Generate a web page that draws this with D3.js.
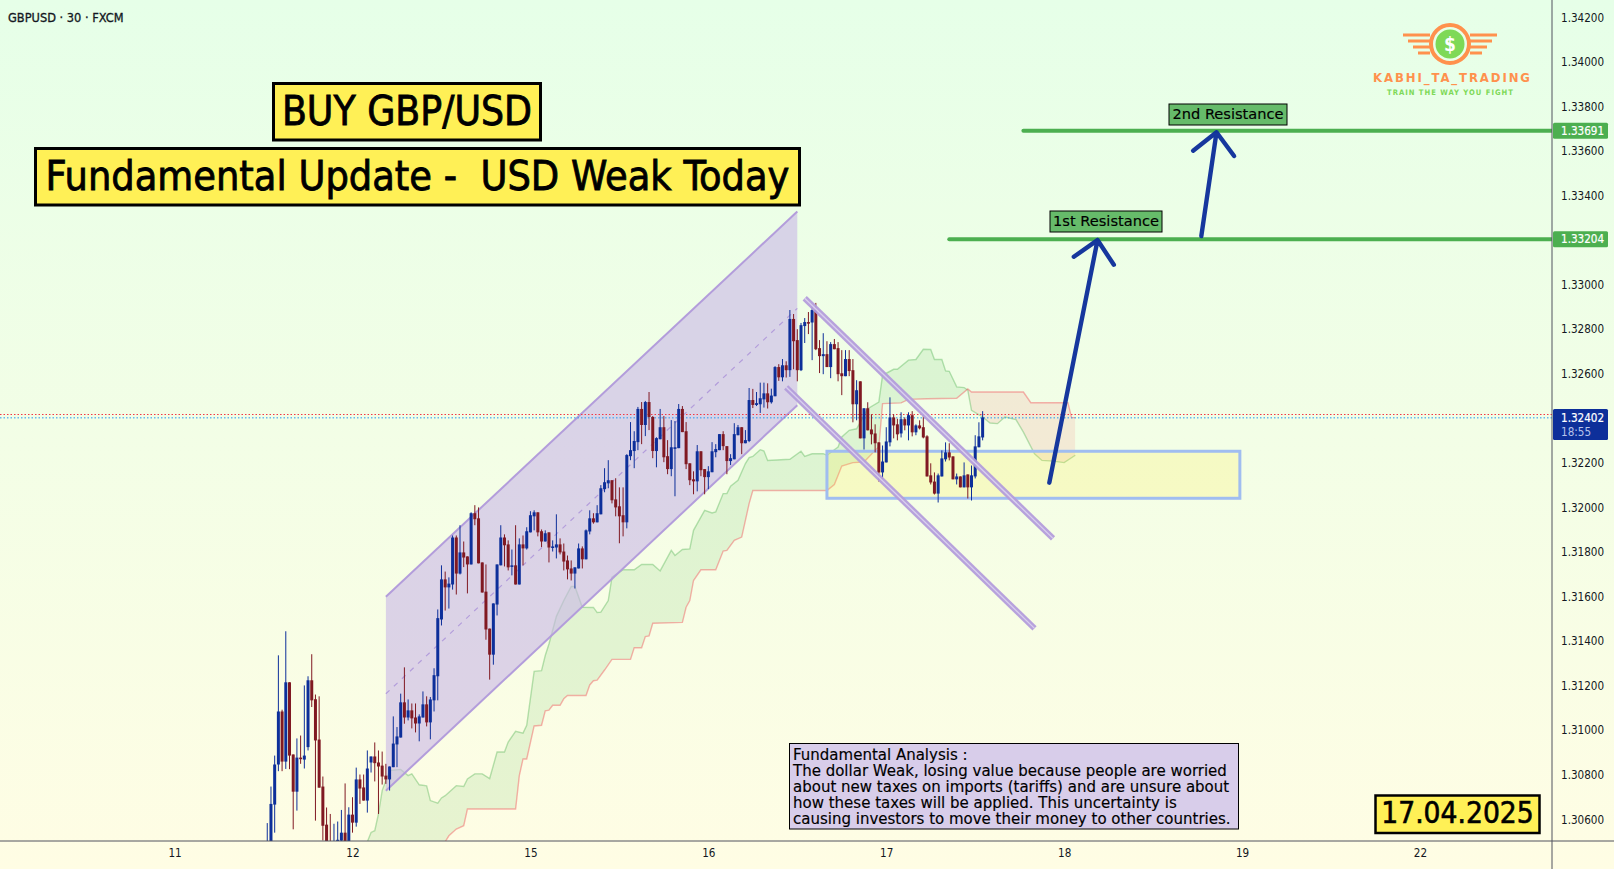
<!DOCTYPE html>
<html>
<head>
<meta charset="utf-8">
<title>GBPUSD 30</title>
<script src="https://cdn.jsdelivr.net/npm/d3@7"></script>
<style>
  html, body { margin: 0; padding: 0; background: #f3ffe3; overflow: hidden; }
  svg { display: block; font-family: "DejaVu Sans Condensed", "DejaVu Sans", sans-serif; }
</style>
</head>
<body>
<svg id="chart" width="1614" height="869"></svg>
<script>
// Candle values in points (1 point = 0.00001), one entry per 30 minute bar
const opens = [130420,130480,130666,130846,131084,130859,131215,130891,130724,130877,130868,130924,131224,131139,130958,130747,130576,130470,130420,130470,130504,130540,130480,130621,130585,130779,130743,130684,130855,130882,130855,130841,130796,130779,130834,130936,130967,131125,131057,131089,131057,131030,131057,131116,131035,131134,
  131242,131497,131677,131641,131654,131865,131703,131798,131780,131744,131974,131951,131753,131622,131456,131339,131564,131740,131865,131834,131735,131740,131654,131834,131816,131888,131960,131978,131893,131847,131888,131822,131820,131834,131802,131762,131726,131703,131726,131816,131767,131892,131951,131933,131969,132082,132108,132122,132036,132005,131965,131933,132230,132253,132293,132442,132370,132473,132406,132253,132306,132360,132230,132172,132267,132266,132442,132342,132198,132126,132117,132252,132172,132136,132158,132248,132257,132329,132275,132208,132216,132324,132360,132288,132298,132482,132460,
  132463,132485,132512,132472,132499,132630,132584,132638,132616,132846,132751,132616,132814,132832,132830,132886,132715,132679,132688,132630,132733,132715,132602,132589,132666,132616,132463,132566,132310,132445,132350,132332,132292,132157,132202,132292,132404,132373,132332,132396,132368,132414,132337,132368,132360,132319,132144,132116,132062,132139,132216,132247,132229,132126,132139,132090,132148,132090,132139,132270,132314];
const highs = [130583,130747,130886,131336,131092,131444,131215,130891,130963,130976,131201,131242,131341,131160,131152,130792,130653,130624,130580,130590,130642,130761,130654,130699,130832,130801,130801,130909,130882,130945,130909,130904,130849,130837,131062,131014,131164,131282,131138,131120,131120,131071,131174,131152,131149,131278,
  131542,131740,131712,131686,131874,131874,131920,131847,131780,131978,132010,132000,131753,131744,131456,131569,131744,131920,131879,131852,131811,131920,131861,131874,131911,131983,131987,131978,131901,131897,131888,131852,131969,131861,131838,131784,131762,131731,131838,131825,131901,131987,131974,132010,132100,132176,132212,132122,132131,132090,132090,132239,132383,132342,132451,132473,132478,132518,132410,132315,132442,132410,132302,132392,132388,132464,132455,132383,132198,132162,132280,132252,132172,132185,132293,132284,132329,132342,132275,132239,132378,132370,132360,132347,132536,132532,132518,
  132560,132560,132557,132533,132634,132643,132666,132656,132886,132868,132800,132828,132850,132877,132904,132918,132751,132782,132746,132742,132756,132742,132706,132706,132706,132666,132571,132566,132445,132472,132418,132373,132292,132278,132360,132494,132418,132398,132427,132404,132427,132432,132373,132391,132418,132324,132198,132157,132152,132256,132292,132288,132229,132152,132139,132202,132148,132188,132324,132382,132432];
const lows = [130380,130440,130540,130816,130816,130826,130825,130555,130639,130849,130828,130909,131104,130594,130742,130505,130430,130380,130380,130420,130450,130440,130450,130540,130567,130669,130684,130630,130810,130770,130624,130756,130759,130729,130834,130834,130967,131029,131044,131008,130990,130950,131057,131017,130959,131084,
  131134,131470,131537,131546,131631,131609,131699,131732,131614,131744,131920,131749,131618,131406,131227,131294,131515,131740,131735,131717,131695,131654,131654,131740,131811,131888,131897,131870,131822,131847,131753,131802,131771,131789,131717,131677,131672,131636,131726,131726,131767,131879,131927,131933,131969,132068,132086,132018,131960,131839,131870,131906,132212,132176,132257,132284,132320,132347,132221,132180,132306,132203,132149,132140,132050,132266,132338,132172,132100,132059,132072,132140,132059,132082,132158,132225,132257,132257,132149,132190,132216,132324,132239,132288,132293,132446,132455,
  132424,132448,132444,132466,132499,132568,132566,132583,132586,132620,132566,132612,132738,132778,132661,132706,132603,132598,132630,132580,132710,132566,132504,132589,132589,132382,132391,132310,132260,132346,132283,132247,132116,132130,132202,132274,132310,132301,132314,132346,132301,132319,132324,132350,132310,132139,132103,132058,132022,132139,132206,132211,132126,132103,132090,132090,132040,132031,132130,132270,132301];
const closes = [130480,130669,130846,131084,130859,131215,130886,130724,130877,130873,130886,131224,131134,130954,130742,130571,130470,130420,130440,130508,130540,130480,130621,130585,130779,130738,130684,130828,130882,130852,130837,130792,130779,130837,130940,130972,131125,131057,131089,131053,131030,131062,131116,131035,131138,131247,
  131503,131677,131641,131658,131865,131703,131798,131775,131744,131974,131947,131749,131618,131452,131339,131569,131744,131865,131830,131731,131740,131654,131834,131816,131893,131965,131978,131888,131847,131884,131820,131825,131834,131798,131757,131722,131703,131731,131816,131767,131897,131951,131933,131974,132086,132113,132122,132032,132000,131960,131933,132235,132257,132298,132442,132370,132473,132406,132253,132311,132360,132225,132172,132270,132270,132442,132338,132194,132122,132117,132252,132167,132136,132162,132252,132262,132329,132275,132208,132221,132329,132360,132288,132302,132482,132460,132468,
  132490,132512,132472,132502,132630,132584,132638,132616,132846,132746,132616,132818,132832,132829,132886,132710,132679,132688,132630,132733,132710,132598,132589,132666,132612,132463,132526,132310,132445,132346,132328,132288,132157,132206,132296,132404,132368,132328,132396,132368,132414,132337,132368,132355,132314,132139,132112,132062,132144,132220,132247,132224,132126,132139,132090,132144,132090,132144,132274,132319,132404];

// Ichimoku cloud, vertices as bar number and points
const spanABars = [27,28,29,30,31,33,36,38,39,41,43,44,46,47,48,51,53,54,56,58,60,62,64,65,67,69,70,72,74,75,76,78,80,82,83,85,88,89,90,92,93,96,99,101,104,106,109,110,112,114,115,118,120,121,123,124,125,127,129,130,131,133,134,135,141,144,145,147,150,151,153,154,155,157,159,162,165,166,169,170,173,175,177,179,180,182,183,184,186,188,189,190,193,195,197,199,202,204,207,209,212,215,218];
const spanAPoints = [130499,130541,130549,130624,130729,130819,130824,130796,130804,130755,130750,130684,130672,130696,130706,130751,130747,130781,130804,130804,130783,130902,130902,130947,130995,130987,131022,131264,131267,131335,131387,131511,131582,131645,131645,131552,131551,131528,131530,131582,131687,131720,131720,131744,131744,131715,131807,131784,131811,131814,131897,131987,131975,131980,132062,132062,132095,132122,132197,132224,132229,132259,132253,132211,132216,132252,132229,132241,132241,132234,132259,132271,132316,132346,132353,132443,132473,132593,132620,132620,132661,132664,132710,132709,132664,132664,132613,132611,132541,132538,132526,132436,132406,132379,132376,132406,132394,132338,132241,132211,132208,132201,132234];
const spanBBars = [27,47,48,49,51,53,54,67,68,69,70,72,74,75,76,77,79,80,81,86,87,88,89,91,93,98,99,101,102,103,104,112,113,114,115,117,121,123,124,126,128,130,131,151,153,155,158,161,164,165,166,171,173,178,186,189,190,204,206,216,217,218];
const spanBPoints = [130400,130470,130499,130526,130556,130571,130646,130646,130796,130871,130871,131019,131022,131087,131090,131112,131112,131141,131156,131156,131203,131222,131225,131270,131318,131318,131370,131370,131420,131423,131480,131484,131552,131582,131672,131720,131720,131804,131807,131852,131867,132017,132076,132076,132103,132186,132201,132204,132256,132271,132466,132469,132485,132488,132490,132532,132518,132518,132470,132470,132403,132403];

// Axis ticks
const priceTicks = [1.342,1.340,1.338,1.336,1.334,1.330,1.328,1.326,1.322,1.320,1.318,1.316,1.314,1.312,1.310,1.308,1.306];
const dayTickBars = [-25,23,71,119,167,215,263,311];
const dayTickLabels = ["11","12","15","16","17","18","19","22"];

// Levels and labels
const resistanceLevels = [1.33204, 1.33691];
const resistanceStartBars = [184, 204];
const resistanceNames = ["1st Resistance", "2nd Resistance"];
const lastPrice = 1.32402;
const prevLine = 1.32417;
const analysisLines = [
  "Fundamental Analysis :",
  "The dollar Weak, losing value because people are worried",
  "about new taxes on imports (tariffs) and are unsure about",
  "how these taxes will be applied. This uncertainty is",
  "causing investors to move their money to other countries."
];

const width = 1614, height = 869;
const axisX = 1552, axisY = 841;
const wideFont = "'DejaVu Sans', sans-serif";
const svg = d3.select("#chart");

const x = d3.scaleLinear().domain([-25, 311]).range([174.6, 1420]);
const y = d3.scaleLinear().domain([1.342, 1.306]).range([17.3, 819.3]);
const py = p => y(p / 1e5);

// Background
const defs = svg.append("defs");
const bg = defs.append("linearGradient").attr("id", "bg").attr("x1", 0).attr("x2", 0).attr("y1", 0).attr("y2", 1);
bg.append("stop").attr("offset", "0%").attr("stop-color", "#e6ffe8");
bg.append("stop").attr("offset", "100%").attr("stop-color", "#fffde4");
svg.append("rect").attr("width", width).attr("height", height).attr("fill", "url(#bg)");

defs.append("clipPath").attr("id", "plot").append("rect").attr("width", axisX).attr("height", axisY);

const plot = svg.append("g").attr("clip-path", "url(#plot)");

// Cloud
const spanA = spanABars.map((b, i) => [b, spanAPoints[i]]);
const spanB = spanBBars.map((b, i) => [b, spanBPoints[i]]);
const lineGen = d3.line().x(d => x(d[0])).y(d => py(d[1]));
const below = d3.area().x(d => x(d[0])).y0(axisY + 200).y1(d => py(d[1]));
const above = d3.area().x(d => x(d[0])).y0(-200).y1(d => py(d[1]));
defs.append("clipPath").attr("id", "aboveB").append("path").attr("d", above(spanB));
defs.append("clipPath").attr("id", "aboveA").append("path").attr("d", above(spanA));
plot.append("g").attr("clip-path", "url(#aboveB)").append("path")
  .attr("d", below(spanA)).attr("fill", "#4caf50").attr("fill-opacity", 0.13);
plot.append("g").attr("clip-path", "url(#aboveA)").append("path")
  .attr("d", below(spanB)).attr("fill", "#f23645").attr("fill-opacity", 0.1);
plot.append("path").attr("d", lineGen(spanA)).attr("fill", "none").attr("stroke", "#4caf50").attr("stroke-opacity", 0.38).attr("stroke-width", 1.4);
plot.append("path").attr("d", lineGen(spanB)).attr("fill", "none").attr("stroke", "#f23645").attr("stroke-opacity", 0.38).attr("stroke-width", 1.4);

// Rising channel
const channelBars = [32, 143];
const channelTop = [1.31599, 1.33328];
const channelBottom = [1.30728, 1.32459];
plot.append("path")
  .attr("d", d3.line()([
    [x(channelBars[0]), y(channelTop[0])], [x(channelBars[1]), y(channelTop[1])],
    [x(channelBars[1]), y(channelBottom[1])], [x(channelBars[0]), y(channelBottom[0])]
  ]) + "Z")
  .attr("fill", "#c9b8e6").attr("fill-opacity", 0.62);
[channelTop, channelBottom].forEach(c => {
  plot.append("line")
    .attr("x1", x(channelBars[0])).attr("y1", y(c[0]))
    .attr("x2", x(channelBars[1])).attr("y2", y(c[1]))
    .attr("stroke", "#b39ddb").attr("stroke-width", 2);
});
plot.append("line")
  .attr("x1", x(channelBars[0])).attr("y1", y((channelTop[0] + channelBottom[0]) / 2))
  .attr("x2", x(channelBars[1])).attr("y2", y((channelTop[1] + channelBottom[1]) / 2))
  .attr("stroke", "#b39ddb").attr("stroke-width", 1.2).attr("stroke-dasharray", "5 6");

// Support zone
plot.append("rect")
  .attr("x", x(151)).attr("y", y(1.32252))
  .attr("width", x(262.4) - x(151)).attr("height", y(1.32041) - y(1.32252))
  .attr("fill", "#ffeb3b").attr("fill-opacity", 0.2)
  .attr("stroke", "#a0bdf0").attr("stroke-width", 3);

// Last price lines
[[prevLine, "#f23645"], [lastPrice, "#2196f3"]].forEach(d => {
  plot.append("line").attr("x1", 0).attr("x2", axisX).attr("y1", y(d[0])).attr("y2", y(d[0]))
    .attr("stroke", d[1]).attr("stroke-width", 1).attr("stroke-dasharray", "1.5 2");
});

// Candles
const bars = opens.map((o, i) => ({ i, o, h: highs[i], l: lows[i], c: closes[i] }));
const candleColor = d => d.c >= d.o ? "#0d2f9a" : "#801922";
const candles = plot.append("g").selectAll("g").data(bars).enter().append("g");
candles.append("line")
  .attr("x1", d => x(d.i)).attr("x2", d => x(d.i))
  .attr("y1", d => py(d.h)).attr("y2", d => py(d.l))
  .attr("stroke", candleColor).attr("stroke-width", 1);
candles.append("rect")
  .attr("x", d => x(d.i) - 1.5).attr("width", 3)
  .attr("y", d => py(Math.max(d.o, d.c)))
  .attr("height", d => Math.max(1.6, Math.abs(py(d.o) - py(d.c))))
  .attr("fill", candleColor);

// Falling channel lines, drawn as a double line
const fallingBars = [[145, 212], [140, 207]];
const fallingPoints = [[132939, 131861], [132539, 131457]];
fallingBars.forEach((b, i) => {
  const seg = plot.append("g");
  [["#b39ddb", 6, 0.95], ["#d9cfee", 1.3, 1]].forEach(s => {
    seg.append("line")
      .attr("x1", x(b[0])).attr("y1", py(fallingPoints[i][0]))
      .attr("x2", x(b[1])).attr("y2", py(fallingPoints[i][1]))
      .attr("stroke", s[0]).attr("stroke-width", s[1]).attr("stroke-opacity", s[2]);
  });
});

// Resistance lines
resistanceLevels.forEach((lvl, i) => {
  plot.append("line")
    .attr("x1", x(resistanceStartBars[i])).attr("x2", axisX)
    .attr("y1", y(lvl)).attr("y2", y(lvl))
    .attr("stroke", "#4caf50").attr("stroke-width", 4).attr("stroke-linecap", "round");
});

// Arrows
const arrowBars = [[211, 224], [252, 256.1]];
const arrowPoints = [[132111, 133200], [133218, 133684]];
const arrowHeads = [[[-23.7, 16.7], [16.3, 24.7]], [[-23.4, 18.4], [17.6, 23.7]]];
arrowBars.forEach((b, i) => {
  const tx = x(b[1]), ty = py(arrowPoints[i][1]);
  plot.append("path")
    .attr("d", `M${x(b[0])},${py(arrowPoints[i][0])}L${tx},${ty}M${tx + arrowHeads[i][0][0]},${ty + arrowHeads[i][0][1]}L${tx},${ty}L${tx + arrowHeads[i][1][0]},${ty + arrowHeads[i][1][1]}`)
    .attr("fill", "none").attr("stroke", "#0d2f9a").attr("stroke-opacity", 0.96)
    .attr("stroke-width", 4.4).attr("stroke-linecap", "round").attr("stroke-linejoin", "round");
});

// Boxed text helper
function textBox(x0, y0, x1, y1, fill, sw, label, size, heavy, font) {
  svg.append("rect").attr("x", x0).attr("y", y0).attr("width", x1 - x0).attr("height", y1 - y0)
    .attr("fill", fill).attr("stroke", "#000").attr("stroke-width", sw);
  const t = svg.append("text").attr("x", (x0 + x1) / 2).attr("y", (y0 + y1) / 2 - 1)
    .attr("text-anchor", "middle").attr("dominant-baseline", "central")
    .attr("xml:space", "preserve").style("white-space", "pre")
    .attr("font-size", size).attr("fill", "#000")
    .attr("stroke", "#000").attr("stroke-width", heavy).text(label);
  if (font) t.attr("font-family", font);
}
textBox(273.5, 83.5, 540.5, 140, "#fff056", 3, "BUY GBP/USD", 40.4, 0.8);
textBox(35.5, 148.5, 799.5, 205, "#fff056", 3, "Fundamental Update -  USD Weak Today", 41, 0.8);
textBox(1375.5, 795.5, 1539.5, 833, "#fff056", 2.5, "17.04.2025", 29.6, 0.6);
textBox(1169, 104, 1287, 125, "#66bb6a", 1, resistanceNames[1], 14.6, 0.15, wideFont);
textBox(1050, 211, 1162, 232, "#66bb6a", 1, resistanceNames[0], 14.6, 0.15, wideFont);

// Analysis note
svg.append("rect").attr("x", 789.5).attr("y", 743.5).attr("width", 449).attr("height", 85.5)
  .attr("fill", "#d8cdea").attr("stroke", "#000").attr("stroke-width", 1);
svg.append("g").selectAll("text").data(analysisLines).enter().append("text")
  .attr("x", 793).attr("y", (d, i) => 760 + i * 16)
  .attr("font-family", wideFont).attr("font-size", 15).attr("fill", "#000")
  .attr("stroke", "#000").attr("stroke-width", 0.15).text(d => d);

// Axes
svg.append("line").attr("x1", 0).attr("x2", width).attr("y1", axisY).attr("y2", axisY).attr("stroke", "#50535e");
svg.append("line").attr("x1", axisX).attr("x2", axisX).attr("y1", 0).attr("y2", height).attr("stroke", "#50535e");

const yAxis = d3.axisRight(y).tickValues(priceTicks).tickFormat(d3.format(".5f")).tickSize(0).tickPadding(9);
const yG = svg.append("g").attr("transform", `translate(${axisX},0)`).call(yAxis);
yG.select(".domain").remove();
yG.selectAll("text").attr("font-size", 11.6).attr("fill", "#131722").attr("font-family", "'DejaVu Sans Condensed', 'DejaVu Sans', sans-serif");

const xAxis = d3.axisBottom(x).tickValues(dayTickBars).tickFormat((d, i) => dayTickLabels[i]).tickSize(0).tickPadding(8);
const xG = svg.append("g").attr("transform", `translate(0,${axisY})`).call(xAxis);
xG.select(".domain").remove();
xG.selectAll("text").attr("font-size", 11.6).attr("fill", "#131722").attr("font-family", "'DejaVu Sans Condensed', 'DejaVu Sans', sans-serif");

// Price tags on the axis
function priceTag(price, fill) {
  svg.append("rect").attr("x", axisX + 1).attr("y", y(price) - 8).attr("width", 55).attr("height", 16).attr("rx", 1.5).attr("fill", fill);
  svg.append("text").attr("x", axisX + 9).attr("y", y(price)).attr("dominant-baseline", "central")
    .attr("font-size", 11.6).attr("fill", "#fff").attr("stroke", "#fff").attr("stroke-width", 0.2).text(d3.format(".5f")(price));
}
resistanceLevels.forEach(l => priceTag(l, "#4caf50"));
svg.append("rect").attr("x", axisX + 1).attr("y", 409).attr("width", 55).attr("height", 31).attr("rx", 1.5).attr("fill", "#0d2f9a");
svg.append("text").attr("x", axisX + 9).attr("y", y(lastPrice)).attr("dominant-baseline", "central")
  .attr("font-size", 11.6).attr("fill", "#fff").attr("stroke", "#fff").attr("stroke-width", 0.2).text(d3.format(".5f")(lastPrice));
svg.append("text").attr("x", axisX + 9).attr("y", 432).attr("dominant-baseline", "central")
  .attr("font-size", 11.6).attr("fill", "#b7c3ea").text("18:55");

// Chart title
svg.append("text").attr("x", 8).attr("y", 17).attr("dominant-baseline", "central")
  .attr("font-size", 12.7).attr("fill", "#131722").attr("stroke", "#131722").attr("stroke-width", 0.3).text("GBPUSD · 30 · FXCM");

// Logo
const logo = svg.append("g").attr("transform", "translate(1450,44)");
const wingRows = [[-47, -9], [-42, -3], [-37, 3], [-32, 9]];
[-1, 1].forEach(side => {
  wingRows.forEach(r => {
    logo.append("line").attr("x1", side * -r[0]).attr("x2", side * 20).attr("y1", r[1]).attr("y2", r[1])
      .attr("stroke", "#ff914d").attr("stroke-width", 3);
  });
});
logo.append("circle").attr("r", 19).attr("fill", "#e8ffe8").attr("stroke", "#ff914d").attr("stroke-width", 4);
logo.append("circle").attr("r", 14.5).attr("fill", "#7ed957");
logo.append("text").attr("text-anchor", "middle").attr("dominant-baseline", "central")
  .attr("font-size", 19).attr("font-weight", 700).attr("fill", "#fff").text("$");
svg.append("text").attr("x", 1452.5).attr("y", 77).attr("text-anchor", "middle").attr("dominant-baseline", "central")
  .attr("font-size", 13).attr("font-weight", 700).attr("letter-spacing", 1.9).attr("fill", "#ff914d").text("KABHI_TA_TRADING");
svg.append("text").attr("x", 1450.5).attr("y", 92.7).attr("text-anchor", "middle").attr("dominant-baseline", "central")
  .attr("font-size", 7.6).attr("font-weight", 700).attr("letter-spacing", 1).attr("fill", "#7ed957").text("TRAIN THE WAY YOU FIGHT");
</script>
</body>
</html>
